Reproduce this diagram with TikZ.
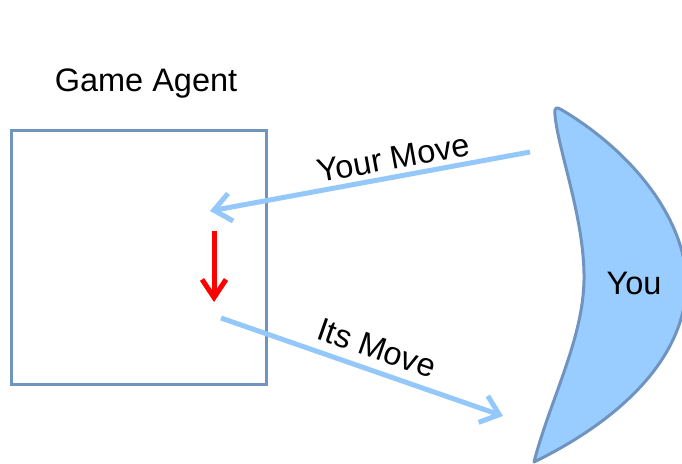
\documentclass[tikz,border=0pt]{standalone}
\usepackage{fontspec}
\setmainfont{Liberation Sans}
\usetikzlibrary{arrows.meta}
\definecolor{boxblue}{RGB}{112,148,192}
\definecolor{arrblue}{RGB}{148,200,250}
\definecolor{moonfill}{RGB}{153,204,255}
\tikzset{
  lbl/.style={font=\fontsize{32.5}{38}\selectfont, inner sep=0pt},
  movearrow/.style={draw=arrblue, line width=5pt, -{Straight Barb[length=17pt,width=28pt]}},
}
\begin{document}
\begin{tikzpicture}[x=1pt,y=-1pt]
\useasboundingbox (0,0) rectangle (682,463);
\clip (0,0) rectangle (682,463);
% agent box
\node[draw=boxblue, line width=3pt, minimum width=255pt, minimum height=254pt, inner sep=0pt] (agent) at (138.5,257) {};
\node[lbl] (title) at (146,84) {Game Agent};
% moon
\draw[fill=moonfill, draw=boxblue, line width=3pt, line join=round]
  (562,110) .. controls (642,158) and (690,230) .. (686,290)
            .. controls (682,360) and (620,420) .. (534,462)
            .. controls (550,400) and (583,340) .. (584,280)
            .. controls (585,220) and (558,150) .. (555,115)
            .. controls (554,106) and (557,107) .. (562,110) -- cycle;
\node[lbl] (you) at (634,283) {You};
% coordinates
\coordinate (ymS) at (530,152);
\coordinate (ymE) at (210,211);
\coordinate (imS) at (221,318);
\coordinate (imE) at (503,416);
\coordinate (rS) at (214,231);
\coordinate (rE) at (214,302);
\draw[movearrow] (ymS) -- (ymE);
\draw[movearrow] (imS) -- (imE);
\draw[red, line width=5pt, -{Straight Barb[length=18pt,width=24pt]}] (rS) -- (rE);
\node[lbl, rotate=10.4] (ymlbl) at (393,158) {Your Move};
\node[lbl, rotate=-19.2] (imlbl) at (377,348) {Its Move};
\end{tikzpicture}
\end{document}
